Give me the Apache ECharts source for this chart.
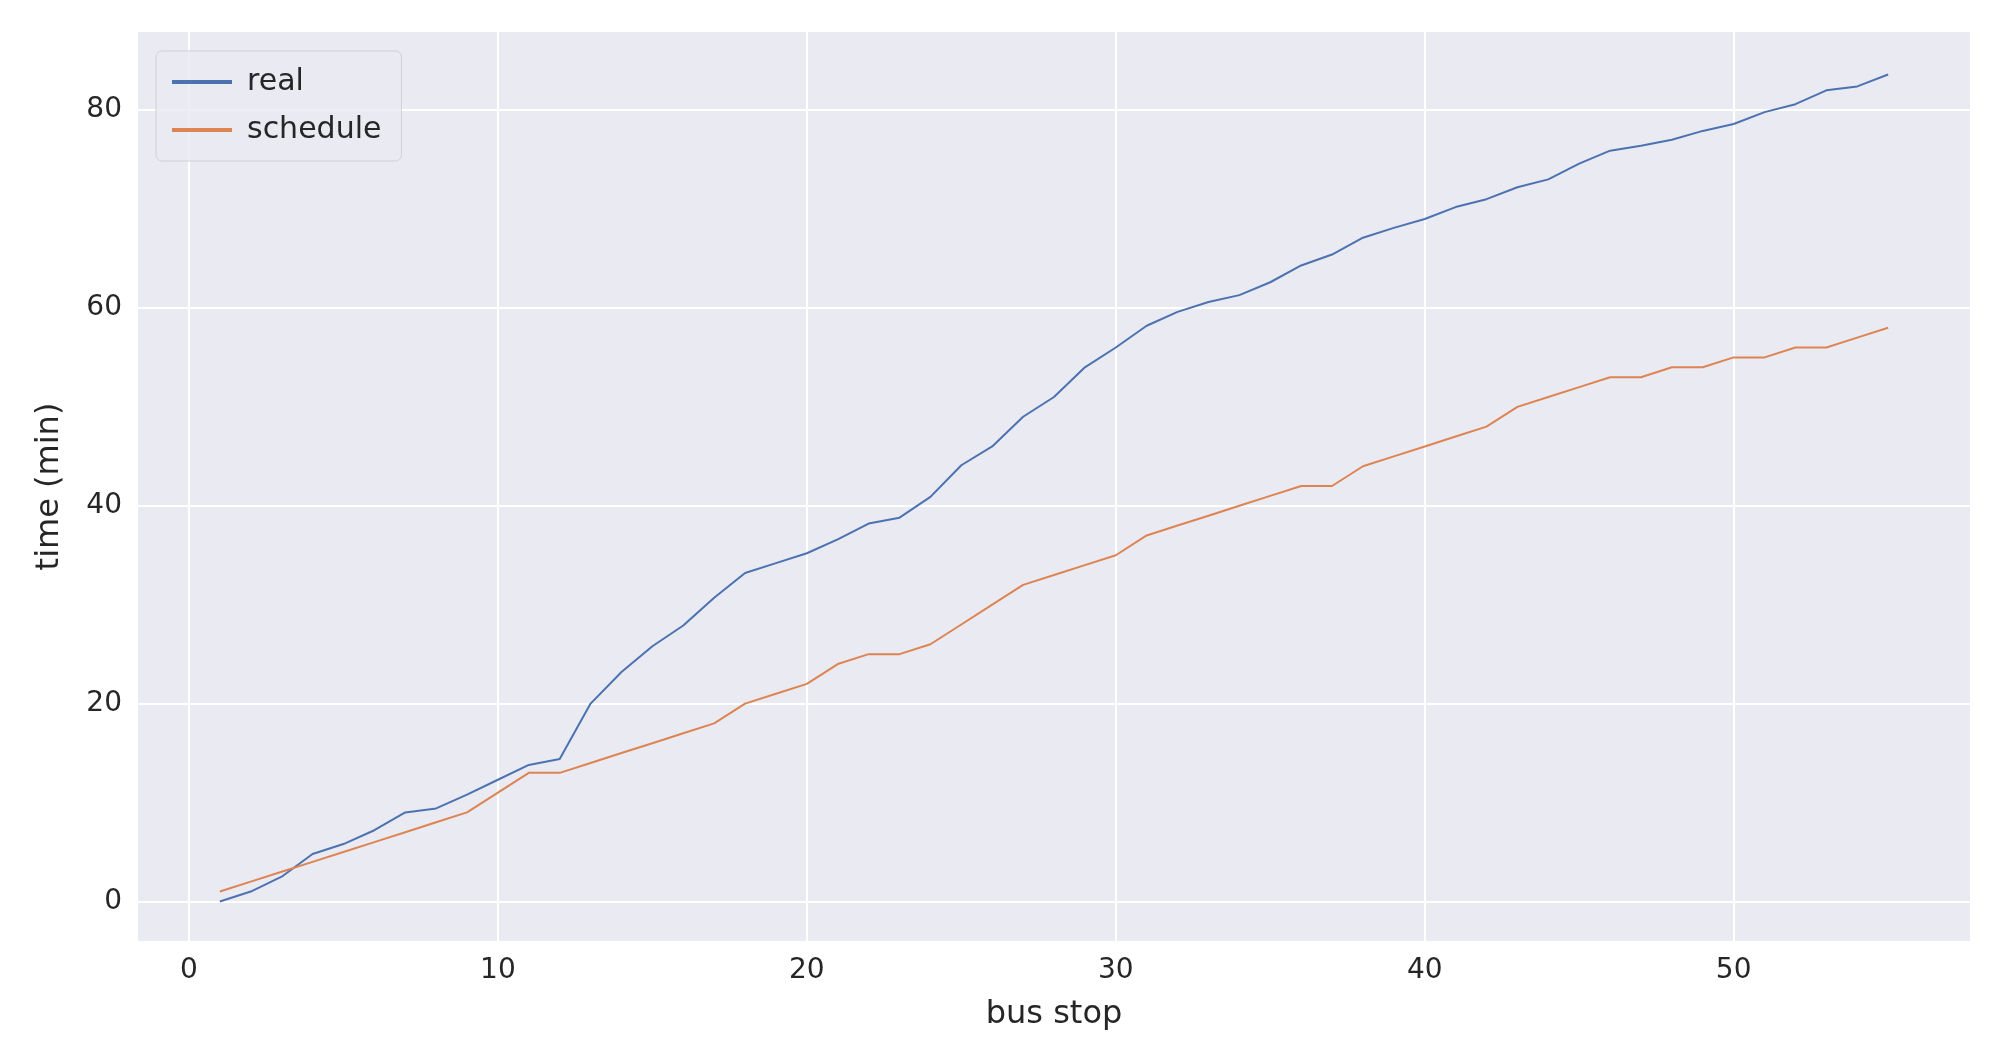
<!DOCTYPE html>
<html>
<head>
<meta charset="utf-8">
<script src="https://cdn.jsdelivr.net/npm/echarts@6/dist/echarts.min.js"></script>
<style>html,body{margin:0;padding:0;background:#fff}#c{width:2002px;height:1061px}</style>
</head>
<body>
<div id="c"></div>
<script>
const stops = [];
for (let i = 1; i <= 55; i++) stops.push(i);
const real = [0, 1, 2.5, 4.8, 5.8, 7.2, 9, 9.4, 10.8, 12.3, 13.8, 14.4, 20, 23.2, 25.8, 27.9, 30.7, 33.2, 34.2, 35.2,
  36.6, 38.2, 38.8, 40.9, 44.1, 46, 49, 51, 54, 56, 58.2, 59.6, 60.6, 61.3, 62.6, 64.3, 65.4, 67.1, 68.1, 69,
  70.2, 71, 72.2, 73, 74.6, 75.9, 76.4, 77, 77.9, 78.6, 79.8, 80.6, 82, 82.4, 83.6];
const schedule = [1, 2, 3, 4, 5, 6, 7, 8, 9, 11, 13, 13, 14, 15, 16, 17, 18, 20, 21, 22,
  24, 25, 25, 26, 28, 30, 32, 33, 34, 35, 37, 38, 39, 40, 41, 42, 42, 44, 45, 46,
  47, 48, 50, 51, 52, 53, 53, 54, 54, 55, 55, 56, 56, 57, 58];
const xTicks = [0, 10, 20, 30, 40, 50];
const yTicks = [0, 20, 40, 60, 80];

const font = 'DejaVu Sans';
const chart = echarts.init(document.getElementById('c'));
const axisCommon = {
  axisLine: { show: false },
  axisTick: { show: false },
  splitLine: { show: true, lineStyle: { color: '#fff', width: 2 } },
  axisLabel: { color: '#262626', fontSize: 28, fontFamily: font, margin: 16 },
  nameTextStyle: { color: '#262626', fontSize: 32, fontFamily: font }
};
chart.setOption({
  backgroundColor: '#fff',
  animation: false,
  grid: { left: 138, right: 32, top: 32, bottom: 120, backgroundColor: '#eaeaf2', show: true, borderWidth: 0 },
  legend: {
    left: 156, top: 51, orient: 'vertical', itemGap: 18,
    itemWidth: 60, itemHeight: 4, icon: 'rect',
    padding: [16, 20, 16, 16],
    backgroundColor: 'rgba(234,234,242,0.8)', borderColor: '#d0d0d8', borderWidth: 1, borderRadius: 6,
    textStyle: { color: '#262626', fontSize: 30, fontFamily: font, padding: [0, 0, 0, 10] },
    data: ['real', 'schedule']
  },
  xAxis: Object.assign({}, axisCommon, {
    type: 'value', min: -1.65, max: 57.65,
    name: 'bus stop', nameLocation: 'middle', nameGap: 58,
    axisLabel: Object.assign({}, axisCommon.axisLabel, { customValues: xTicks }),
    axisTick: { show: false, customValues: xTicks }
  }),
  yAxis: Object.assign({}, axisCommon, {
    type: 'value', min: -4, max: 87.9,
    name: 'time (min)', nameLocation: 'middle', nameGap: 72,
    axisLabel: Object.assign({}, axisCommon.axisLabel, { customValues: yTicks }),
    axisTick: { show: false, customValues: yTicks }
  }),
  series: [
    { name: 'real', type: 'line', showSymbol: false, data: stops.map((s, i) => [s, real[i]]),
      lineStyle: { color: '#4c72b0', width: 2 }, itemStyle: { color: '#4c72b0' } },
    { name: 'schedule', type: 'line', showSymbol: false, data: stops.map((s, i) => [s, schedule[i]]),
      lineStyle: { color: '#dd8452', width: 2 }, itemStyle: { color: '#dd8452' } }
  ]
});
</script>
</body>
</html>
